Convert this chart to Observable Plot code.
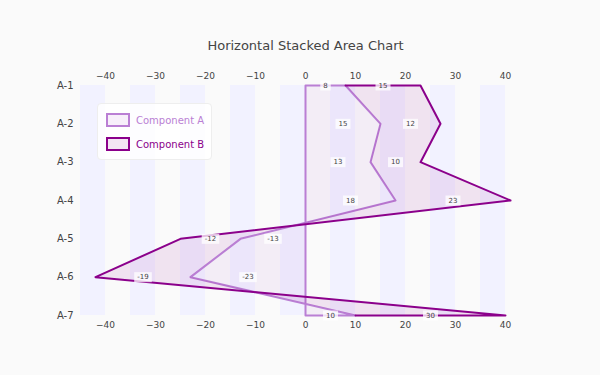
<!DOCTYPE html>
<html>
<head>
<meta charset="utf-8">
<script src="https://cdn.jsdelivr.net/npm/d3@7"></script>
<script src="https://cdn.jsdelivr.net/npm/@observablehq/plot@0.6"></script>
<style>
  html, body { margin: 0; padding: 0; background: #fafafa; }
  #wrap { position: relative; width: 600px; height: 375px; font-family: "DejaVu Sans", sans-serif; }
  #legend { position: absolute; left: 97px; top: 103px; width: 115px; height: 57px; box-sizing: border-box;
    background: rgba(255,255,255,0.85); border: 1px solid #eeeeee; border-radius: 4px; font-size: 10px; }
  .item { position: absolute; left: 8px; display: flex; align-items: center; }
  .sw { width: 20px; height: 10px; border: 2px solid; margin-right: 6px; }
</style>
</head>
<body>
<div id="wrap"></div>
<script>
const title = "Horizontal Stacked Area Chart";
const categories = ["A-1", "A-2", "A-3", "A-4", "A-5", "A-6", "A-7"];
const componentA = [8, 15, 13, 18, -13, -23, 10];
const componentB = [15, 12, 10, 23, -12, -19, 30];
const xTicks = [-40, -30, -20, -10, 0, 10, 20, 30, 40];
const stripeStarts = [-45, -35, -25, -15, -5, 5, 15, 25, 35];
const seriesNames = ["Component A", "Component B"];

const colA = "#BA7FD4";
const colB = "#8B008B";

const rows = categories.map((c, i) => ({i, a: componentA[i], b: componentB[i], total: componentA[i] + componentB[i]}));
const outlineA = [{x: 0, y: 0}, ...rows.map(r => ({x: r.a, y: r.i})), {x: 0, y: rows.length - 1}, {x: 0, y: 0}];
const outlineB = [{x: rows[0].a, y: 0}, ...rows.map(r => ({x: r.total, y: r.i})), {x: rows[rows.length - 1].a, y: rows.length - 1}];
const labels = [];
rows.forEach(r => {
  labels.push({x: r.a / 2, y: r.i, t: String(r.a)});
  labels.push({x: r.a + r.b / 2, y: r.i, t: String(r.b)});
});
function textW(s) { let w = 0; for (const ch of s) w += ch === "-" ? 2.6 : 4.5; return w + 6; }
function boxSym(w) { return {draw(ctx) { ctx.rect(-w / 2, -5, w, 10); }}; }

const plot = Plot.plot({
  width: 600, height: 375,
  marginLeft: 80, marginRight: 70, marginTop: 85, marginBottom: 60,
  style: {background: "#fafafa", fontFamily: "DejaVu Sans, sans-serif", color: "#444"},
  x: {domain: [-45, 45]},
  y: {domain: [0, categories.length - 1], reverse: true},
  marks: [
    Plot.rectX(stripeStarts, {x1: d => d, x2: d => d + 5, fill: "#f2f2ff"}),
    Plot.axisX({anchor: "top", ticks: xTicks, tickSize: 0, tickPadding: 7, fontSize: 9, fill: "#444"}),
    Plot.axisX({anchor: "bottom", ticks: xTicks, tickSize: 0, tickPadding: 6, fontSize: 9, fill: "#444"}),
    Plot.axisY({ticks: d3.range(categories.length), tickFormat: i => categories[i], tickSize: 0, tickPadding: 7, fontSize: 10, fill: "#444"}),
    Plot.areaX(rows, {y: "i", x1: () => 0, x2: "a", fill: colA, fillOpacity: 0.1}),
    Plot.line(outlineA, {x: "x", y: "y", stroke: colA, strokeWidth: 2}),
    Plot.areaX(rows, {y: "i", x1: "a", x2: "total", fill: colB, fillOpacity: 0.09}),
    Plot.line(outlineB, {x: "x", y: "y", stroke: colB, strokeWidth: 2}),
    ...labels.map(l => Plot.dot([l], {x: "x", y: "y", symbol: boxSym(textW(l.t)), fill: "white", fillOpacity: 0.75, stroke: null, r: 3})),
    Plot.text(labels, {x: "x", y: "y", text: "t", fontSize: 7, fill: "#444"}),
    Plot.text([title], {frameAnchor: "top", lineAnchor: "middle", dy: -40, fontSize: 13, fill: "#444"})
  ]
});
const wrap = document.getElementById("wrap");
wrap.appendChild(plot);
const legend = document.createElement("div");
legend.id = "legend";
[[seriesNames[0], colA, 0.12, 9], [seriesNames[1], colB, 0.1, 33]].forEach(([name, c, op, top]) => {
  const it = document.createElement("div");
  it.className = "item";
  it.style.top = top + "px";
  const sw = document.createElement("div");
  sw.className = "sw";
  sw.style.borderColor = c;
  sw.style.background = d3.color(c).copy({opacity: op}).formatRgb();
  const tx = document.createElement("span");
  tx.textContent = name;
  tx.style.color = c;
  it.appendChild(sw); it.appendChild(tx);
  legend.appendChild(it);
});
wrap.appendChild(legend);
</script>
</body>
</html>
